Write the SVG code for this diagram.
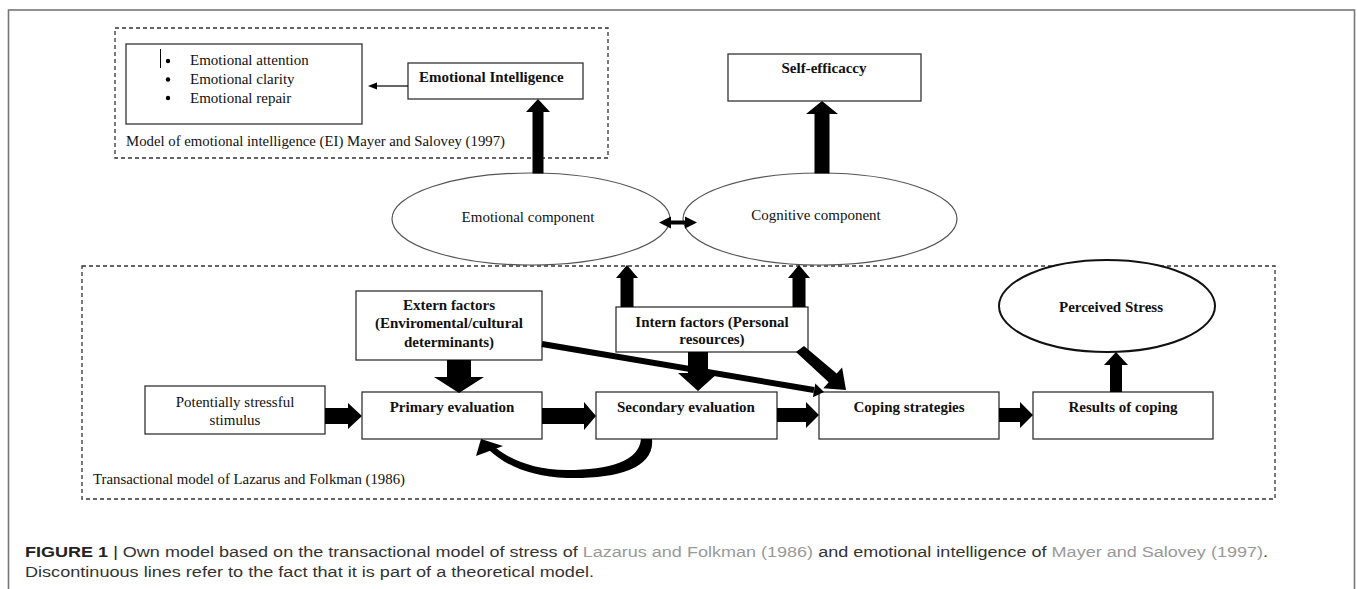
<svg xmlns="http://www.w3.org/2000/svg" width="1357" height="589" viewBox="0 0 1357 589">
<style>
.box{fill:#fff;stroke:#333;stroke-width:1.3}
.ell{fill:#fff;stroke:#555;stroke-width:1.2}
.dash{fill:none;stroke:#333;stroke-width:1.3;stroke-dasharray:4 3}
.t{font-family:"Liberation Serif","Times New Roman",serif;font-size:15px;fill:#111}
.b{font-weight:bold}
.c{text-anchor:middle}
.arr{fill:#000;stroke:none}
.cap{font-family:"Liberation Sans",Arial,sans-serif;font-size:14px;fill:#333}
</style>
<rect x="8.5" y="10" width="1346" height="620" fill="#fff" stroke="#777" stroke-width="1.6"/>
<g id="frames">
<rect class="dash" x="115" y="28" width="493" height="130"/>
<text class="t" x="126" y="146" font-size="14" textLength="379" lengthAdjust="spacingAndGlyphs">Model of emotional intelligence (EI) Mayer and Salovey (1997)</text>
<rect class="dash" x="82" y="266" width="1193" height="233"/>
<text class="t" x="93" y="484" font-size="14" textLength="312" lengthAdjust="spacingAndGlyphs">Transactional model of Lazarus and Folkman (1986)</text>
</g>
<g id="ei-dimensions">
<rect class="box" x="126" y="44" width="236" height="80"/>
<line x1="160.5" y1="49" x2="160.5" y2="68" stroke="#000" stroke-width="1"/>
<circle cx="168" cy="61" r="2.2" fill="#000"/>
<circle cx="168" cy="79.5" r="2.2" fill="#000"/>
<circle cx="168" cy="98" r="2.2" fill="#000"/>
<text class="t" x="190" y="65">Emotional attention</text>
<text class="t" x="190" y="84">Emotional clarity</text>
<text class="t" x="190" y="103">Emotional repair</text>
</g>
<g id="emotional-intelligence">
<rect class="box" x="408" y="63" width="175" height="36"/>
<text class="t b" x="419" y="82" font-size="14.5">Emotional Intelligence</text>
</g>
<g id="self-efficacy">
<rect class="box" x="728" y="54" width="193" height="47"/>
<text class="t b c" x="824" y="73" font-size="14.5">Self-efficaccy</text>
</g>
<g id="emotional-component">
<ellipse class="ell" cx="531" cy="219" rx="139" ry="46"/>
<text class="t c" x="528" y="222" font-size="16">Emotional component</text>
</g>
<g id="cognitive-component">
<ellipse class="ell" cx="820" cy="219" rx="137" ry="46"/>
<text class="t c" x="816" y="220" font-size="16">Cognitive component</text>
</g>
<g id="extern-factors">
<rect class="box" x="356" y="291" width="186" height="69"/>
<text class="t b c" x="449" y="310">Extern factors</text>
<text class="t b c" x="449" y="328">(Enviromental/cultural</text>
<text class="t b c" x="449" y="347">determinants)</text>
</g>
<g id="intern-factors">
<rect class="box" x="616" y="307" width="192" height="45"/>
<text class="t b c" x="712" y="327">Intern factors (Personal</text>
<text class="t b c" x="712" y="344">resources)</text>
</g>
<g id="stimulus">
<rect class="box" x="145" y="386" width="180" height="48"/>
<text class="t c" x="235" y="407">Potentially stressful</text>
<text class="t c" x="235" y="425">stimulus</text>
</g>
<g id="primary-evaluation">
<rect class="box" x="362" y="392" width="180" height="47"/>
<text class="t b c" x="452" y="412">Primary evaluation</text>
</g>
<g id="secondary-evaluation">
<rect class="box" x="596" y="392" width="181" height="47"/>
<text class="t b c" x="686" y="412">Secondary evaluation</text>
</g>
<g id="coping-strategies">
<rect class="box" x="819" y="392" width="180" height="47"/>
<text class="t b c" x="909" y="412">Coping strategies</text>
</g>
<g id="results-of-coping">
<rect class="box" x="1033" y="392" width="180" height="47"/>
<text class="t b c" x="1123" y="412">Results of coping</text>
</g>
<g id="perceived-stress">
<ellipse cx="1107" cy="306" rx="108" ry="46" fill="#fff" stroke="#111" stroke-width="2"/>
<text class="t b c" x="1111" y="312" font-size="16">Perceived Stress</text>
</g>
<g id="connectors">
<line x1="376" y1="86" x2="408" y2="86" stroke="#000" stroke-width="1.2"/>
<polygon class="arr" points="368,86 377,82.5 377,89.5"/>
<polygon class="arr" points="532.5,173.5 532.5,112 526,112 538,99 550,112 543.5,112 543.5,173.5"/>
<polygon class="arr" points="814.5,173.5 814.5,114 806,114 822,101 838,114 829.5,114 829.5,173.5"/>
<polygon class="arr" points="659,222.5 671,216.5 671,220.5 685,220.5 685,216.5 697,222.5 685,228.5 685,224.5 671,224.5 671,228.5"/>
<polygon class="arr" points="620.5,307 620.5,278 616,278 627,265 638,278 633.5,278 633.5,307"/>
<polygon class="arr" points="792.5,307 792.5,278 788,278 799,265 810,278 805.5,278 805.5,307"/>
<polygon class="arr" points="447,360 471,360 471,377 484,377 459,393 434,377 447,377"/>
<polygon class="arr" points="688,352 708,352 708,373 718,373 698,391 678,373 688,373"/>
<polygon class="arr" points="325,408 348,408 348,403 362,416 348,429 348,424 325,424"/>
<polygon class="arr" points="542,408 584,408 584,402 596,416 584,430 584,424 542,424"/>
<polygon class="arr" points="777,408 806,408 806,402 819,415 806,428 806,422 777,422"/>
<polygon class="arr" points="999,408 1020,408 1020,402 1033,415 1020,428 1020,422 999,422"/>
<polygon class="arr" points="1110,392 1110,365 1104,365 1116,352 1128,365 1122,365 1122,392"/>
<polygon class="arr" points="804,346 836.7,373.5 842.1,367.6 846,390 823.3,388.2 828.7,382.3 796,352"/>
<line x1="542" y1="344" x2="814" y2="390" stroke="#000" stroke-width="6"/>
<polygon class="arr" points="824,392 812.9,397.2 815.3,383.4"/>
<path class="arr" d="M641,439 L652,439 C655,468 618,479 567,478 C532,477 506,466 489,450 L496,448 C512,461 536,470 567,470 C610,470 639,461 641,439 Z"/>
<polygon class="arr" points="481,439 476,456 503,446"/>
</g>
<g id="caption">
<text class="cap" x="25" y="557" textLength="1243" lengthAdjust="spacingAndGlyphs"><tspan font-weight="bold" fill="#222">FIGURE 1</tspan> <tspan fill="#222">|</tspan> Own model based on the transactional model of stress of <tspan fill="#999">Lazarus and Folkman (1986)</tspan> and emotional intelligence of <tspan fill="#999">Mayer and Salovey (1997)</tspan>.</text>
<text class="cap" x="25" y="577" textLength="569" lengthAdjust="spacingAndGlyphs">Discontinuous lines refer to the fact that it is part of a theoretical model.</text>
</g>
</svg>
